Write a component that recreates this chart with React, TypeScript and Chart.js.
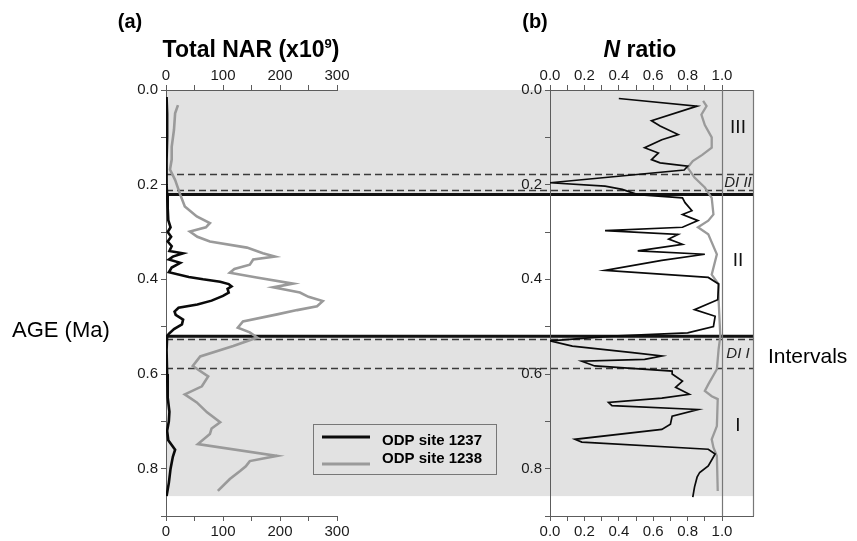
import React, { useEffect, useRef } from 'react';
import { Chart, registerables } from 'chart.js';

Chart.register(...registerables);

// ---------------- data ----------------
// Panel (a): Total NAR (x10^9) against age (Ma)
const ageNar1237 = [0.015, 0.05, 0.10, 0.15, 0.20, 0.222, 0.25, 0.275, 0.29, 0.30, 0.31, 0.32, 0.33, 0.34, 0.345, 0.352, 0.358, 0.365, 0.375, 0.385, 0.395, 0.40, 0.405, 0.41, 0.415, 0.42, 0.428, 0.435, 0.445, 0.453, 0.46, 0.468, 0.475, 0.485, 0.495, 0.505, 0.515, 0.52, 0.55, 0.60, 0.65, 0.68, 0.70, 0.72, 0.74, 0.76, 0.775, 0.80, 0.83, 0.858];
const nar1237 = [1, 2, 2, 1, 1, 2, 3, 4, 8, 3, 9, 3, 10, 6, 30, 12, 5, 25, 10, 5, 40, 65, 95, 110, 115, 108, 110, 100, 80, 55, 22, 15, 17, 30, 28, 14, 5, 2, 1, 2, 3, 6, 5, 2, 4, 16, 12, 8, 5, 1];
const ageNar1238 = [0.032, 0.049, 0.084, 0.12, 0.147, 0.168, 0.19, 0.221, 0.246, 0.267, 0.281, 0.29, 0.299, 0.31, 0.32, 0.333, 0.345, 0.352, 0.358, 0.369, 0.378, 0.386, 0.396, 0.409, 0.417, 0.428, 0.437, 0.446, 0.457, 0.465, 0.474, 0.489, 0.502, 0.512, 0.523, 0.541, 0.563, 0.583, 0.605, 0.626, 0.643, 0.66, 0.681, 0.702, 0.715, 0.727, 0.748, 0.773, 0.784, 0.795, 0.805, 0.822, 0.847];
const nar1238 = [21, 16, 14, 10, 10, 7, 16, 25, 33, 54, 77, 70, 42, 55, 77, 142, 170, 191, 153, 147, 120, 112, 159, 223, 188, 235, 250, 275, 265, 230, 195, 135, 126, 147, 160, 118, 60, 47, 74, 63, 33, 54, 72, 95, 80, 77, 56, 195, 147, 140, 130, 112, 91];

// Panel (b): N ratio against age (Ma)
const ageN1237 = [0.018, 0.034, 0.065, 0.076, 0.094, 0.105, 0.122, 0.133, 0.147, 0.154, 0.161, 0.169, 0.196, 0.203, 0.21, 0.221, 0.228, 0.238, 0.255, 0.263, 0.276, 0.29, 0.297, 0.305, 0.315, 0.326, 0.34, 0.347, 0.36, 0.381, 0.396, 0.41, 0.443, 0.464, 0.478, 0.50, 0.513, 0.52, 0.53, 0.541, 0.555, 0.562, 0.569, 0.573, 0.583, 0.594, 0.60, 0.615, 0.628, 0.643, 0.651, 0.66, 0.667, 0.675, 0.689, 0.706, 0.717, 0.738, 0.744, 0.759, 0.769, 0.794, 0.808, 0.818, 0.839, 0.86];
const n1237 = [0.40, 0.855, 0.59, 0.64, 0.745, 0.65, 0.55, 0.63, 0.59, 0.64, 0.80, 0.78, 0.0, 0.32, 0.42, 0.51, 0.77, 0.785, 0.825, 0.77, 0.86, 0.77, 0.32, 0.745, 0.69, 0.77, 0.51, 0.90, 0.65, 0.32, 0.92, 0.98, 0.975, 0.84, 0.96, 0.95, 0.80, 0.36, 0.0, 0.13, 0.48, 0.65, 0.55, 0.185, 0.26, 0.71, 0.71, 0.77, 0.73, 0.81, 0.65, 0.34, 0.36, 0.86, 0.71, 0.70, 0.65, 0.145, 0.185, 0.92, 0.96, 0.92, 0.87, 0.855, 0.84, 0.83];
const ageN1238 = [0.023, 0.034, 0.052, 0.074, 0.10, 0.122, 0.137, 0.15, 0.164, 0.185, 0.206, 0.228, 0.263, 0.276, 0.29, 0.305, 0.347, 0.39, 0.41, 0.443, 0.52, 0.548, 0.59, 0.622, 0.636, 0.647, 0.653, 0.71, 0.738, 0.755, 0.773, 0.847];
const n1238 = [0.89, 0.91, 0.88, 0.90, 0.94, 0.94, 0.885, 0.83, 0.80, 0.84, 0.90, 0.94, 0.95, 0.92, 0.86, 0.92, 0.97, 0.94, 0.98, 0.98, 0.99, 0.98, 0.97, 0.92, 0.90, 0.94, 0.975, 0.97, 0.94, 0.95, 0.97, 0.975];

// intervals
const shadedRanges = [[0, 0.221], [0.52, 0.858]];
const boundaryAges = [0.221, 0.52];
const dashedAges = [0.177, 0.212, 0.525, 0.588];
const intervalNames = ['III', 'DI II', 'II', 'DI I', 'I'];
const intervalAges = [0.08, 0.196, 0.36, 0.558, 0.71];
const intervalItalic = [false, true, false, true, false];

const seriesNames = ['ODP site 1237', 'ODP site 1238'];
const naRTicks = { min: 0, max: 300, step: 50 };
const ageTicks = { min: 0, max: 0.9, step: 0.1 };
const nRatioTicks = { min: 0, max: 1.18, step: 0.1, lastLabel: 1.0 };

// ---------------- layout ----------------
const W = 857;
const H = 541;
const A_LEFT = 166;
const A_RIGHT = 337;
const B_LEFT = 550;
const B_RIGHT = 753;
const P_TOP = 90;
const P_BOTTOM = 516;
const FONT = '"Liberation Sans", Arial, Helvetica, sans-serif';
const AXIS = '#5c5c5c';
const SHADE = '#e2e2e2';
const BLACK = '#0a0a0a';
const GREY = '#9a9a9a';

const pts = (ages: number[], vals: number[]) => ages.map((a, i) => ({ x: vals[i], y: a }));

const tickFont = { family: FONT, size: 15 };

function ageAxis(width: number) {
  return {
    type: 'linear',
    position: 'left',
    min: ageTicks.min,
    max: ageTicks.max,
    reverse: true,
    afterFit: (s: any) => { s.width = width; },
    border: { display: true, color: AXIS, width: 1 },
    grid: { drawOnChartArea: false, drawTicks: true, tickLength: 5, color: AXIS },
    ticks: {
      stepSize: ageTicks.step,
      autoSkip: false,
      padding: 3,
      color: '#1a1a1a',
      font: tickFont,
      callback: (v: number) => {
        const k = Math.round(v * 10);
        return k % 2 === 0 && k < 9 ? (k / 10).toFixed(1) : '';
      },
    },
  };
}

function valueAxis(pos: 'top' | 'bottom', min: number, max: number, step: number, labelFn: (v: number) => string, limit: number) {
  return {
    type: 'linear',
    position: pos,
    min,
    max,
    afterFit: (s: any) => { s.height = pos === 'top' ? P_TOP : H - P_BOTTOM; },
    afterBuildTicks: (s: any) => { s.ticks = s.ticks.filter((t: any) => t.value <= limit + 1e-6); },
    border: { display: true, color: AXIS, width: 1 },
    grid: { drawOnChartArea: false, drawTicks: true, tickLength: 5, color: AXIS },
    ticks: {
      stepSize: step,
      autoSkip: false,
      maxRotation: 0,
      padding: pos === 'top' ? 0 : 2,
      color: '#1a1a1a',
      font: tickFont,
      callback: labelFn,
    },
  };
}

const narLabel = (v: number) => (Math.round(v) % 100 === 0 ? String(Math.round(v)) : '');
const ratioLabel = (v: number) => {
  const k = Math.round(v * 10);
  return k % 2 === 0 ? (k / 10).toFixed(1) : '';
};

// background bands + horizontal interval lines (drawn on the lower canvas, spanning both panels)
const bandsPlugin = {
  id: 'bands',
  beforeDraw(chart: any) {
    const { ctx } = chart;
    const y = chart.scales.y;
    ctx.save();
    ctx.fillStyle = SHADE;
    shadedRanges.forEach(([a0, a1]) => {
      const y0 = y.getPixelForValue(a0);
      const y1 = y.getPixelForValue(a1);
      ctx.fillRect(A_LEFT, y0, B_RIGHT - A_LEFT, y1 - y0);
    });
    ctx.restore();
  },
  beforeDatasetsDraw(chart: any) {
    const { ctx } = chart;
    const y = chart.scales.y;
    ctx.save();
    ctx.strokeStyle = '#3a3a3a';
    ctx.lineWidth = 1.3;
    ctx.setLineDash([7, 4]);
    dashedAges.forEach((a) => {
      const py = Math.round(y.getPixelForValue(a)) + 0.5;
      ctx.beginPath();
      ctx.moveTo(A_LEFT, py);
      ctx.lineTo(B_RIGHT, py);
      ctx.stroke();
    });
    ctx.setLineDash([]);
    ctx.strokeStyle = '#111';
    ctx.lineWidth = 3;
    boundaryAges.forEach((a) => {
      const py = y.getPixelForValue(a);
      ctx.beginPath();
      ctx.moveTo(A_LEFT, py);
      ctx.lineTo(B_RIGHT, py);
      ctx.stroke();
    });
    ctx.restore();
  },
  afterDraw(chart: any) {
    const { ctx } = chart;
    ctx.save();
    ctx.fillStyle = '#000';
    ctx.textBaseline = 'middle';
    ctx.textAlign = 'center';
    ctx.font = `bold 20px ${FONT}`;
    ctx.fillText('(a)', 130, 22);
    // title with superscript
    const big = `bold 23px ${FONT}`;
    const small = `bold 13px ${FONT}`;
    ctx.font = big;
    const p1 = 'Total NAR (x10';
    const p3 = ')';
    const w1 = ctx.measureText(p1).width;
    const w3 = ctx.measureText(p3).width;
    ctx.font = small;
    const w2 = ctx.measureText('9').width;
    const total = w1 + w2 + w3;
    let x = 251 - total / 2;
    ctx.textAlign = 'left';
    ctx.font = big;
    ctx.fillText(p1, x, 51);
    x += w1;
    ctx.font = small;
    ctx.fillText('9', x, 44);
    x += w2;
    ctx.font = big;
    ctx.fillText(p3, x, 51);
    // y title
    ctx.font = `22px ${FONT}`;
    ctx.fillText('AGE (Ma)', 12, 331);
    // legend
    ctx.strokeStyle = '#777';
    ctx.lineWidth = 1;
    ctx.strokeRect(313.5, 424.5, 183, 50);
    ctx.lineWidth = 3;
    ctx.strokeStyle = BLACK;
    ctx.beginPath();
    ctx.moveTo(322, 437);
    ctx.lineTo(370, 437);
    ctx.stroke();
    ctx.strokeStyle = GREY;
    ctx.beginPath();
    ctx.moveTo(322, 464);
    ctx.lineTo(370, 464);
    ctx.stroke();
    ctx.fillStyle = '#000';
    ctx.font = `bold 15px ${FONT}`;
    ctx.fillText(seriesNames[0], 382, 441);
    ctx.fillText(seriesNames[1], 382, 459);
    ctx.restore();
  },
};

const panelBPlugin = {
  id: 'panelB',
  beforeDatasetsDraw(chart: any) {
    const { ctx, chartArea } = chart;
    const x = chart.scales.xTop;
    ctx.save();
    ctx.strokeStyle = '#777';
    ctx.lineWidth = 1.2;
    const px = Math.round(x.getPixelForValue(nRatioTicks.lastLabel)) + 0.5;
    ctx.beginPath();
    ctx.moveTo(px, chartArea.top);
    ctx.lineTo(px, chartArea.bottom);
    ctx.stroke();
    ctx.beginPath();
    ctx.moveTo(chartArea.right + 0.5, chartArea.top);
    ctx.lineTo(chartArea.right + 0.5, chartArea.bottom);
    ctx.stroke();
    ctx.restore();
  },
  afterDraw(chart: any) {
    const { ctx } = chart;
    const y = chart.scales.y;
    ctx.save();
    ctx.fillStyle = '#000';
    ctx.textBaseline = 'middle';
    ctx.textAlign = 'center';
    ctx.font = `bold 20px ${FONT}`;
    ctx.fillText('(b)', 535, 22);
    const fN = `bold italic 23px ${FONT}`;
    const fR = `bold 23px ${FONT}`;
    ctx.font = fN;
    const wN = ctx.measureText('N').width;
    ctx.font = fR;
    const wR = ctx.measureText(' ratio').width;
    let x = 640 - (wN + wR) / 2;
    ctx.textAlign = 'left';
    ctx.font = fN;
    ctx.fillText('N', x, 51);
    x += wN;
    ctx.font = fR;
    ctx.fillText(' ratio', x, 51);
    ctx.font = `21px ${FONT}`;
    ctx.fillText('Intervals', 768, 357);
    ctx.textAlign = 'center';
    intervalNames.forEach((name, i) => {
      ctx.font = intervalItalic[i] ? `italic 15px ${FONT}` : `19px ${FONT}`;
      ctx.fillStyle = intervalItalic[i] ? '#222' : '#111';
      ctx.fillText(name, 738, y.getPixelForValue(intervalAges[i]));
    });
    ctx.restore();
  },
};

const baseOpts = (rightPad: number) => ({
  responsive: false,
  animation: false as const,
  devicePixelRatio: 1,
  layout: { autoPadding: false, padding: { left: 0, top: 0, bottom: 0, right: rightPad } },
  plugins: { legend: { display: false }, tooltip: { enabled: false } },
  elements: { point: { radius: 0 }, line: { tension: 0 } },
});

export default function App() {
  const refA = useRef<HTMLCanvasElement>(null);
  const refB = useRef<HTMLCanvasElement>(null);

  useEffect(() => {
    const chartA = new Chart(refA.current as HTMLCanvasElement, {
      type: 'scatter',
      data: {
        datasets: [
          { label: seriesNames[0], data: pts(ageNar1237, nar1237), showLine: true, borderColor: BLACK, borderWidth: 2.6, pointRadius: 0, xAxisID: 'xTop', yAxisID: 'y' },
          { label: seriesNames[1], data: pts(ageNar1238, nar1238), showLine: true, borderColor: GREY, borderWidth: 2.6, pointRadius: 0, xAxisID: 'xTop', yAxisID: 'y' },
        ],
      },
      options: {
        ...baseOpts(W - A_RIGHT),
        scales: {
          y: ageAxis(A_LEFT),
          xTop: valueAxis('top', naRTicks.min, naRTicks.max, naRTicks.step, narLabel, naRTicks.max),
          xBottom: valueAxis('bottom', naRTicks.min, naRTicks.max, naRTicks.step, narLabel, naRTicks.max),
        },
      } as any,
      plugins: [bandsPlugin],
    });
    const chartB = new Chart(refB.current as HTMLCanvasElement, {
      type: 'scatter',
      data: {
        datasets: [
          { label: seriesNames[0], data: pts(ageN1237, n1237), showLine: true, borderColor: BLACK, borderWidth: 1.7, pointRadius: 0, xAxisID: 'xTop', yAxisID: 'y' },
          { label: seriesNames[1], data: pts(ageN1238, n1238), showLine: true, borderColor: GREY, borderWidth: 2.3, pointRadius: 0, xAxisID: 'xTop', yAxisID: 'y' },
        ],
      },
      options: {
        ...baseOpts(W - B_RIGHT),
        scales: {
          y: ageAxis(B_LEFT),
          xTop: valueAxis('top', nRatioTicks.min, nRatioTicks.max, nRatioTicks.step, ratioLabel, nRatioTicks.lastLabel),
          xBottom: valueAxis('bottom', nRatioTicks.min, nRatioTicks.max, nRatioTicks.step, ratioLabel, nRatioTicks.lastLabel),
        },
      } as any,
      plugins: [panelBPlugin],
    });
    return () => {
      chartA.destroy();
      chartB.destroy();
    };
  }, []);

  return (
    <div style={{ position: 'fixed', left: 0, top: 0, width: W, height: H, background: '#fff' }}>
      <canvas ref={refA} width={W} height={H} style={{ position: 'absolute', left: 0, top: 0 }} />
      <canvas ref={refB} width={W} height={H} style={{ position: 'absolute', left: 0, top: 0 }} />
    </div>
  );
}
